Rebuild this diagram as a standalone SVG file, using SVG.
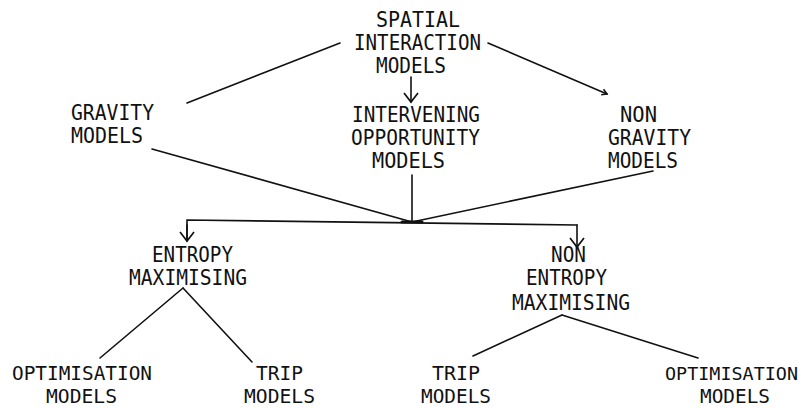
<svg xmlns="http://www.w3.org/2000/svg" width="806" height="408" viewBox="0 0 806 408">
<style>
text{font-family:"DejaVu Sans Mono","Liberation Mono",monospace;font-size:21px;fill:#111}
text.b{font-size:20px}
text.s{font-size:18.5px}
.c{fill:none;stroke:#111;stroke-width:1.6;stroke-linecap:round}
</style>
<defs>
<marker id="v" markerUnits="userSpaceOnUse" markerWidth="24" markerHeight="24" viewBox="-12 -12 24 24" refX="0" refY="0" orient="auto">
<path d="M-9,-7 L0,0 L-9,7" fill="none" stroke="#111" stroke-width="1.7"/>
</marker>
<marker id="vs" markerUnits="userSpaceOnUse" markerWidth="12" markerHeight="12" viewBox="-6 -6 12 12" refX="0" refY="0" orient="auto">
<path d="M-5,-3 L0,0 L-5,3" fill="none" stroke="#111" stroke-width="1.5"/>
</marker>
</defs>
<rect width="806" height="408" fill="#fff"/>
<g id="connectors">
<line class="c" x1="340" y1="43" x2="187" y2="103"/>
<line class="c" x1="488" y1="43" x2="607" y2="94" marker-end="url(#vs)"/>
<line class="c" x1="411" y1="77" x2="411" y2="102" marker-end="url(#v)"/>
<line class="c" x1="152" y1="149" x2="412" y2="222"/>
<line class="c" x1="412" y1="175" x2="412" y2="222"/>
<line class="c" x1="653" y1="171" x2="412" y2="222"/>
<polyline class="c" points="187,240 187,220 577,225"/>
<line class="c" x1="187" y1="225" x2="187" y2="241" marker-end="url(#v)"/>
<line class="c" x1="577" y1="225" x2="577" y2="247" marker-end="url(#v)"/>
<line class="c" x1="402" y1="222" x2="422" y2="222" style="stroke-width:3"/>
<line class="c" x1="183" y1="288" x2="100" y2="358"/>
<line class="c" x1="183" y1="288" x2="252" y2="362"/>
<line class="c" x1="562" y1="315" x2="473" y2="356"/>
<line class="c" x1="562" y1="315" x2="698" y2="358"/>
</g>
<g id="spatial">
<text x="376" y="27" textLength="84" lengthAdjust="spacingAndGlyphs">SPATIAL</text>
<text x="354" y="50" textLength="127" lengthAdjust="spacingAndGlyphs">INTERACTION</text>
<text x="376" y="73" textLength="70" lengthAdjust="spacingAndGlyphs">MODELS</text>
</g>
<g id="gravity">
<text x="71" y="120" textLength="83" lengthAdjust="spacingAndGlyphs">GRAVITY</text>
<text x="71" y="143" textLength="72" lengthAdjust="spacingAndGlyphs">MODELS</text>
</g>
<g id="intervening">
<text x="352" y="122" textLength="128" lengthAdjust="spacingAndGlyphs">INTERVENING</text>
<text x="351" y="145" textLength="129" lengthAdjust="spacingAndGlyphs">OPPORTUNITY</text>
<text x="372" y="168" textLength="73" lengthAdjust="spacingAndGlyphs">MODELS</text>
</g>
<g id="nongravity">
<text x="620" y="122" textLength="37" lengthAdjust="spacingAndGlyphs">NON</text>
<text x="608" y="145" textLength="83" lengthAdjust="spacingAndGlyphs">GRAVITY</text>
<text x="608" y="168" textLength="70" lengthAdjust="spacingAndGlyphs">MODELS</text>
</g>
<g id="entropy">
<text x="152" y="262" textLength="81" lengthAdjust="spacingAndGlyphs">ENTROPY</text>
<text x="129" y="285" textLength="118" lengthAdjust="spacingAndGlyphs">MAXIMISING</text>
</g>
<g id="nonentropy">
<text x="551" y="262" textLength="35" lengthAdjust="spacingAndGlyphs">NON</text>
<text x="526" y="285" textLength="81" lengthAdjust="spacingAndGlyphs">ENTROPY</text>
<text x="512" y="310" textLength="118" lengthAdjust="spacingAndGlyphs">MAXIMISING</text>
</g>
<g id="opt1">
<text class="b" x="12" y="380" textLength="140" lengthAdjust="spacingAndGlyphs">OPTIMISATION</text>
<text class="b" x="46" y="403" textLength="71" lengthAdjust="spacingAndGlyphs">MODELS</text>
</g>
<g id="trip1">
<text class="b" x="256" y="380" textLength="47" lengthAdjust="spacingAndGlyphs">TRIP</text>
<text class="b" x="244" y="403" textLength="71" lengthAdjust="spacingAndGlyphs">MODELS</text>
</g>
<g id="trip2">
<text class="b" x="432" y="380" textLength="48" lengthAdjust="spacingAndGlyphs">TRIP</text>
<text class="b" x="421" y="403" textLength="70" lengthAdjust="spacingAndGlyphs">MODELS</text>
</g>
<g id="opt2">
<text class="s" x="665" y="380" textLength="133" lengthAdjust="spacingAndGlyphs">OPTIMISATION</text>
<text class="b" x="700" y="403" textLength="70" lengthAdjust="spacingAndGlyphs">MODELS</text>
</g>
</svg>
